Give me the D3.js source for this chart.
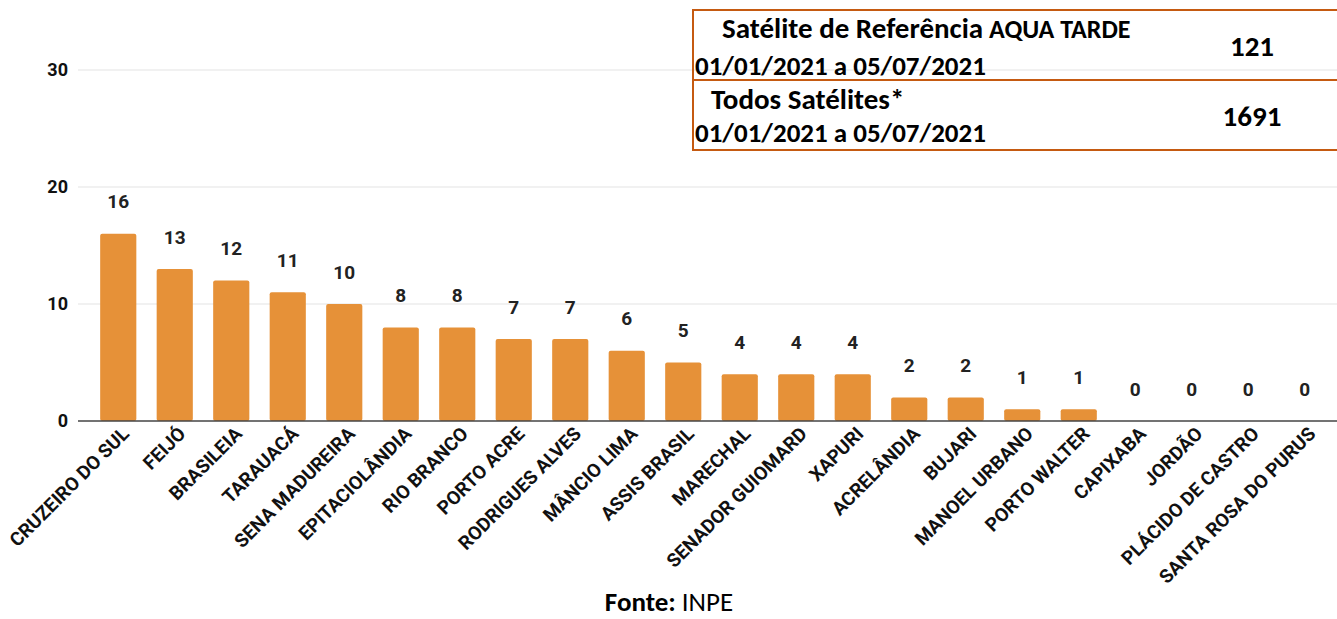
<!DOCTYPE html>
<html><head><meta charset="utf-8">
<script src="https://cdn.jsdelivr.net/npm/d3@7"></script>
<style>body{margin:0;background:#fff}</style>
</head><body>
<svg id="c" width="1337" height="619"></svg>
<script>
const categories = ["CRUZEIRO DO SUL","FEIJÓ","BRASILEIA","TARAUACÁ","SENA MADUREIRA","EPITACIOLÂNDIA","RIO BRANCO","PORTO ACRE","RODRIGUES ALVES","MÂNCIO LIMA","ASSIS BRASIL","MARECHAL","SENADOR GUIOMARD","XAPURI","ACRELÂNDIA","BUJARI","MANOEL URBANO","PORTO WALTER","CAPIXABA","JORDÃO","PLÁCIDO DE CASTRO","SANTA ROSA DO PURUS"];
const values = [16,13,12,11,10,8,8,7,7,6,5,4,4,4,2,2,1,1,0,0,0,0];
const yTicks = [0,10,20,30];
const tableTitles = ["Satélite de Referência", "Todos Satélites*"];
const tableExtras = [" AQUA TARDE", ""];
const tablePeriods = ["01/01/2021 a 05/07/2021", "01/01/2021 a 05/07/2021"];
const tableTotals = ["121", "1691"];
const source = ["Fonte:", " INPE"];

const svg = d3.select("#c");
const x = d3.scaleBand().domain(categories).range([90,1333]).paddingInner(0.36).paddingOuter(0.18);
const y = d3.scaleLinear().domain([0,30]).range([421,70]);
const font = "Roboto, 'Open Sans', sans-serif";

// grid
svg.append("g").selectAll("line").data(yTicks.filter(d=>d>0)).join("line")
  .attr("x1",78).attr("x2",1337).attr("y1",d=>y(d)).attr("y2",d=>y(d))
  .attr("stroke","#e3e3e3").attr("stroke-width",1);
svg.append("g").selectAll("text").data(yTicks).join("text")
  .attr("x",68).attr("y",d=>y(d)).attr("dy","0.35em").attr("text-anchor","end")
  .attr("font-family",font).attr("font-weight","bold").attr("font-size",18).attr("fill","#111")
  .text(d=>d);

// bars
svg.append("g").selectAll("rect").data(values).join("rect")
  .attr("x",(d,i)=>x(categories[i])).attr("width",x.bandwidth())
  .attr("y",d=>y(d)).attr("height",d=>y(0)-y(d))
  .attr("rx",2).attr("fill","#e69138");
svg.append("line").attr("x1",78).attr("x2",1337).attr("y1",y(0)).attr("y2",y(0)).attr("stroke","#444").attr("stroke-width",1.5);

// value labels
svg.append("g").selectAll("text").data(values).join("text")
  .attr("x",(d,i)=>x(categories[i])+x.bandwidth()/2).attr("y",d=>y(d)-32).attr("dy","0.35em")
  .attr("text-anchor","middle").attr("font-family",font).attr("font-weight","bold").attr("font-size",19).attr("fill","#222")
  .text(d=>d);

// category labels
svg.append("g").selectAll("text").data(categories).join("text")
  .attr("transform",d=>`translate(${x(d)+x.bandwidth()/2+12},${435}) rotate(-45)`)
  .attr("text-anchor","end").attr("font-family",font).attr("font-weight","bold").attr("font-size",19).attr("fill","#111")
  .text(d=>d);

// table
const tf = "Carlito, Calibri, 'Open Sans', sans-serif";
const tg = svg.append("g");
tg.append("rect").attr("x",693).attr("y",10).attr("width",650).attr("height",140).attr("fill","none").attr("stroke","#c55a11").attr("stroke-width",2);
tg.append("line").attr("x1",693).attr("x2",1337).attr("y1",80).attr("y2",80).attr("stroke","#c55a11").attr("stroke-width",2);
const titleX = [722,711], titleY = [38,109], periodY = [75,142], totalY = [56,126];
tableTitles.forEach((tt,i)=>{
  const t = tg.append("text").attr("x",titleX[i]).attr("y",titleY[i]).attr("font-family",tf).attr("font-weight","bold").attr("fill","#000");
  t.append("tspan").attr("font-size",29).text(tt);
  if(tableExtras[i]) t.append("tspan").attr("font-size",26).text(tableExtras[i]);
  tg.append("text").attr("x",695).attr("y",periodY[i]).attr("font-family",tf).attr("font-weight","bold").attr("font-size",27).attr("fill","#000").text(tablePeriods[i]);
  tg.append("text").attr("x",1252).attr("y",totalY[i]).attr("text-anchor","middle").attr("font-family",tf).attr("font-weight","bold").attr("font-size",29).attr("fill","#000").text(tableTotals[i]);
});

// source
const s = svg.append("text").attr("x",669).attr("y",611).attr("text-anchor","middle").attr("font-family",tf).attr("font-size",27).attr("fill","#000");
s.append("tspan").attr("font-weight","bold").text(source[0]);
s.append("tspan").text(source[1]);
</script>
</body></html>
